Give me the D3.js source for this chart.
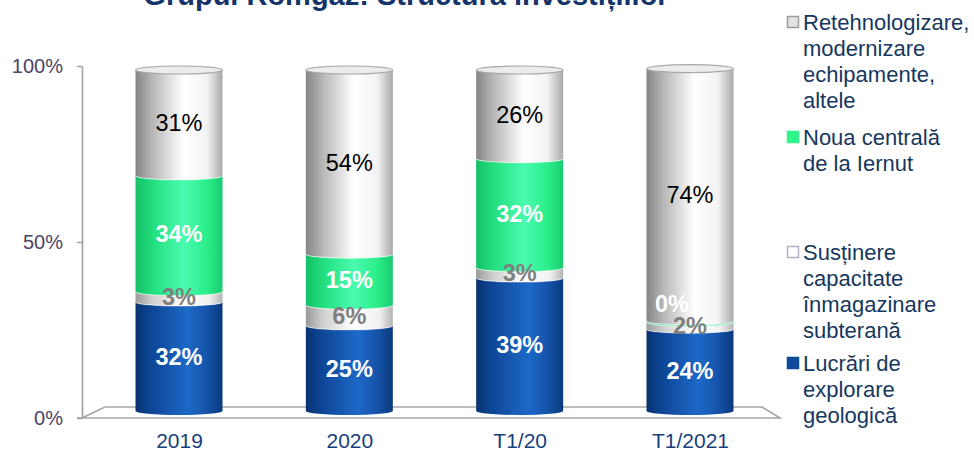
<!DOCTYPE html>
<html>
<head>
<meta charset="utf-8">
<script src="https://cdn.jsdelivr.net/npm/d3@7"></script>
<style>
  html, body { margin: 0; padding: 0; background: #ffffff; }
  svg { display: block; font-family: "Liberation Sans", Arial, sans-serif; }
</style>
</head>
<body>
<svg id="chart" width="974" height="453"></svg>
<script>
// ---- data ----
const title = "Grupul Romgaz: Structura investițiilor";
const categories = ["2019", "2020", "T1/20", "T1/2021"];
// series from bottom to top of each stack
const seriesNames = [
  "Lucrări de explorare geologică",
  "Susținere capacitate înmagazinare subterană",
  "Noua centrală de la Iernut",
  "Retehnologizare, modernizare echipamente, altele"
];
const explorare   = [32, 25, 39, 24];
const inmagazinare = [3, 6, 3, 2];
const iernut      = [34, 15, 32, 0.4];
const retehnologizare = [31, 54, 26, 74];
const yTicks = [0, 50, 100];
const legendLines = [
  ["Retehnologizare,", "modernizare", "echipamente,", "altele"],
  ["Noua centrală", "de la Iernut"],
  ["Susținere", "capacitate", "înmagazinare", "subterană"],
  ["Lucrări de", "explorare", "geologică"]
];

// ---- setup ----
const svg = d3.select("#chart");
const defs = svg.append("defs");
const seriesValues = [explorare, inmagazinare, iernut, retehnologizare];

const gradStops = [
  [[0, "#08336f"], [0.15, "#0c4391"], [0.6, "#1d69c8"], [0.82, "#1553a9"], [1, "#0a3a7e"]],
  [[0, "#9a9a9a"], [0.2, "#d0d0d0"], [0.55, "#ffffff"], [0.85, "#f0f0f0"], [1, "#b4b4b4"]],
  [[0, "#14c068"], [0.2, "#22df7e"], [0.55, "#4afbb0"], [0.82, "#2bee8a"], [1, "#19cc70"]],
  [[0, "#858585"], [0.2, "#b8b8b8"], [0.55, "#ffffff"], [0.82, "#f3f3f3"], [1, "#a9a9a9"]]
];
gradStops.forEach((stops, i) => {
  const g = defs.append("linearGradient").attr("id", "g" + i)
    .attr("x1", "0%").attr("x2", "100%").attr("y1", "0%").attr("y2", "0%");
  stops.forEach(s => g.append("stop").attr("offset", s[0]).attr("stop-color", s[1]));
});
const legendFill = ["#0d4a9c", "#ffffff", "#2ef58c", "#e4e4e4"];
const legendStroke = ["#0d4a9c", "#b8b0c8", "#2ef58c", "#9c9c9c"];
const labelColor = ["#ffffff", "#808080", "#ffffff", "#000000"];
const labelWeight = ["bold", "bold", "bold", "normal"];

const x = d3.scalePoint().domain(categories).range([179, 690]);
const barW = 87, rx = barW / 2, ry = 4;
const yBar = d3.scaleLinear().domain([0, 100]).range([411, 70]);
const yAxisScale = d3.scaleLinear().domain([0, 100]).range([418, 66]);

// title (cut off at the top edge, as in the reference)
svg.append("text").attr("x", 406).attr("y", 5).attr("text-anchor", "middle")
  .attr("font-size", 29).attr("font-weight", "bold").attr("fill", "#14346a").text(title);

// floor
const fl = 82, fr = 780, fb = 418, ft = 407;
svg.append("path")
  .attr("d", `M${fl - 5},${fb} L${fr},${fb} L${fr - 18},${ft} L${fl + 23},${ft} L${fl},${fb}`)
  .attr("fill", "none").attr("stroke", "#a6a6a6").attr("stroke-width", 1.6);

// y axis
const yAxis = d3.axisLeft(yAxisScale).tickValues(yTicks).tickFormat(d => d + "%")
  .tickSize(5).tickSizeOuter(0).tickPadding(14);
const ga = svg.append("g").attr("transform", "translate(82,0)").call(yAxis);
ga.select(".domain").attr("stroke", "#a0a0a0").attr("stroke-width", 1.6);
ga.selectAll(".tick line").attr("stroke", "#a0a0a0").attr("stroke-width", 1.4);
ga.selectAll(".tick text").attr("font-size", 20).attr("fill", "#4a4466")
  .attr("font-family", "Liberation Sans, Arial, sans-serif");

// x axis labels
const xAxis = d3.axisBottom(x).tickSize(0).tickPadding(0);
const gx = svg.append("g").attr("transform", "translate(0,433)").call(xAxis);
gx.select(".domain").remove();
gx.selectAll(".tick text").attr("font-size", 21).attr("fill", "#173f7c")
  .attr("font-family", "Liberation Sans, Arial, sans-serif");

// bars (cylinders)
const stack = categories.map((c, ci) => {
  let cum = 0;
  return seriesValues.map((vals, si) => {
    const v = vals[ci];
    const seg = { c, si, v, y0: cum, y1: cum + v };
    cum += v;
    return seg;
  });
});

function segPath(cx, yT, yB) {
  const x0 = cx - rx, x1 = cx + rx;
  return `M${x0},${yT} A${rx},${ry} 0 0 0 ${x1},${yT} L${x1},${yB} A${rx},${ry} 0 0 1 ${x0},${yB} Z`;
}

const bars = svg.append("g");
stack.forEach(segs => {
  const cx = x(segs[0].c);
  const g = bars.append("g");
  g.selectAll("path.seg").data(segs).join("path").attr("class", "seg")
    .attr("d", d => segPath(cx, yBar(d.y1), yBar(d.y0)))
    .attr("fill", d => `url(#g${d.si})`);
  // boundary highlight lines
  g.selectAll("path.edge").data(segs.slice(0, -1)).join("path").attr("class", "edge")
    .attr("d", d => `M${cx - rx},${yBar(d.y1)} A${rx},${ry} 0 0 0 ${cx + rx},${yBar(d.y1)}`)
    .attr("fill", "none").attr("stroke", "#ffffff").attr("stroke-opacity", 0.55).attr("stroke-width", 1.2);
  // top ellipse
  const total = segs[segs.length - 1].y1;
  g.append("ellipse").attr("cx", cx).attr("cy", yBar(total)).attr("rx", rx).attr("ry", ry)
    .attr("fill", "#ececec").attr("stroke", "#a8a8a8").attr("stroke-width", 1.2);
  // labels
  g.selectAll("text").data(segs).join("text")
    .attr("x", d => cx + (d.v < 1 ? -18 : 0))
    .attr("y", d => (yBar(d.y0) + yBar(d.y1)) / 2 + (d.v < 1 ? -18 : 0))
    .attr("dy", "0.36em").attr("text-anchor", "middle")
    .attr("font-size", 23.5)
    .attr("font-weight", d => labelWeight[d.si])
    .attr("fill", d => labelColor[d.si])
    .text(d => Math.round(d.v) + "%");
});

// legend (top to bottom: reverse series order)
const legendBase = [30, 145, 260, 371];
const lineH = 26;
const lg = svg.append("g");
legendLines.forEach((lines, i) => {
  const si = 3 - i;
  lg.append("rect").attr("x", 787.5).attr("y", legendBase[i] - 13.5).attr("width", 11).attr("height", 11)
    .attr("fill", legendFill[si]).attr("stroke", legendStroke[si]).attr("stroke-width", 1.5);
  lines.forEach((t, li) => {
    lg.append("text").attr("x", 803).attr("y", legendBase[i] + li * lineH)
      .attr("font-size", 22).attr("fill", "#17375e").text(t);
  });
});
</script>
</body>
</html>
